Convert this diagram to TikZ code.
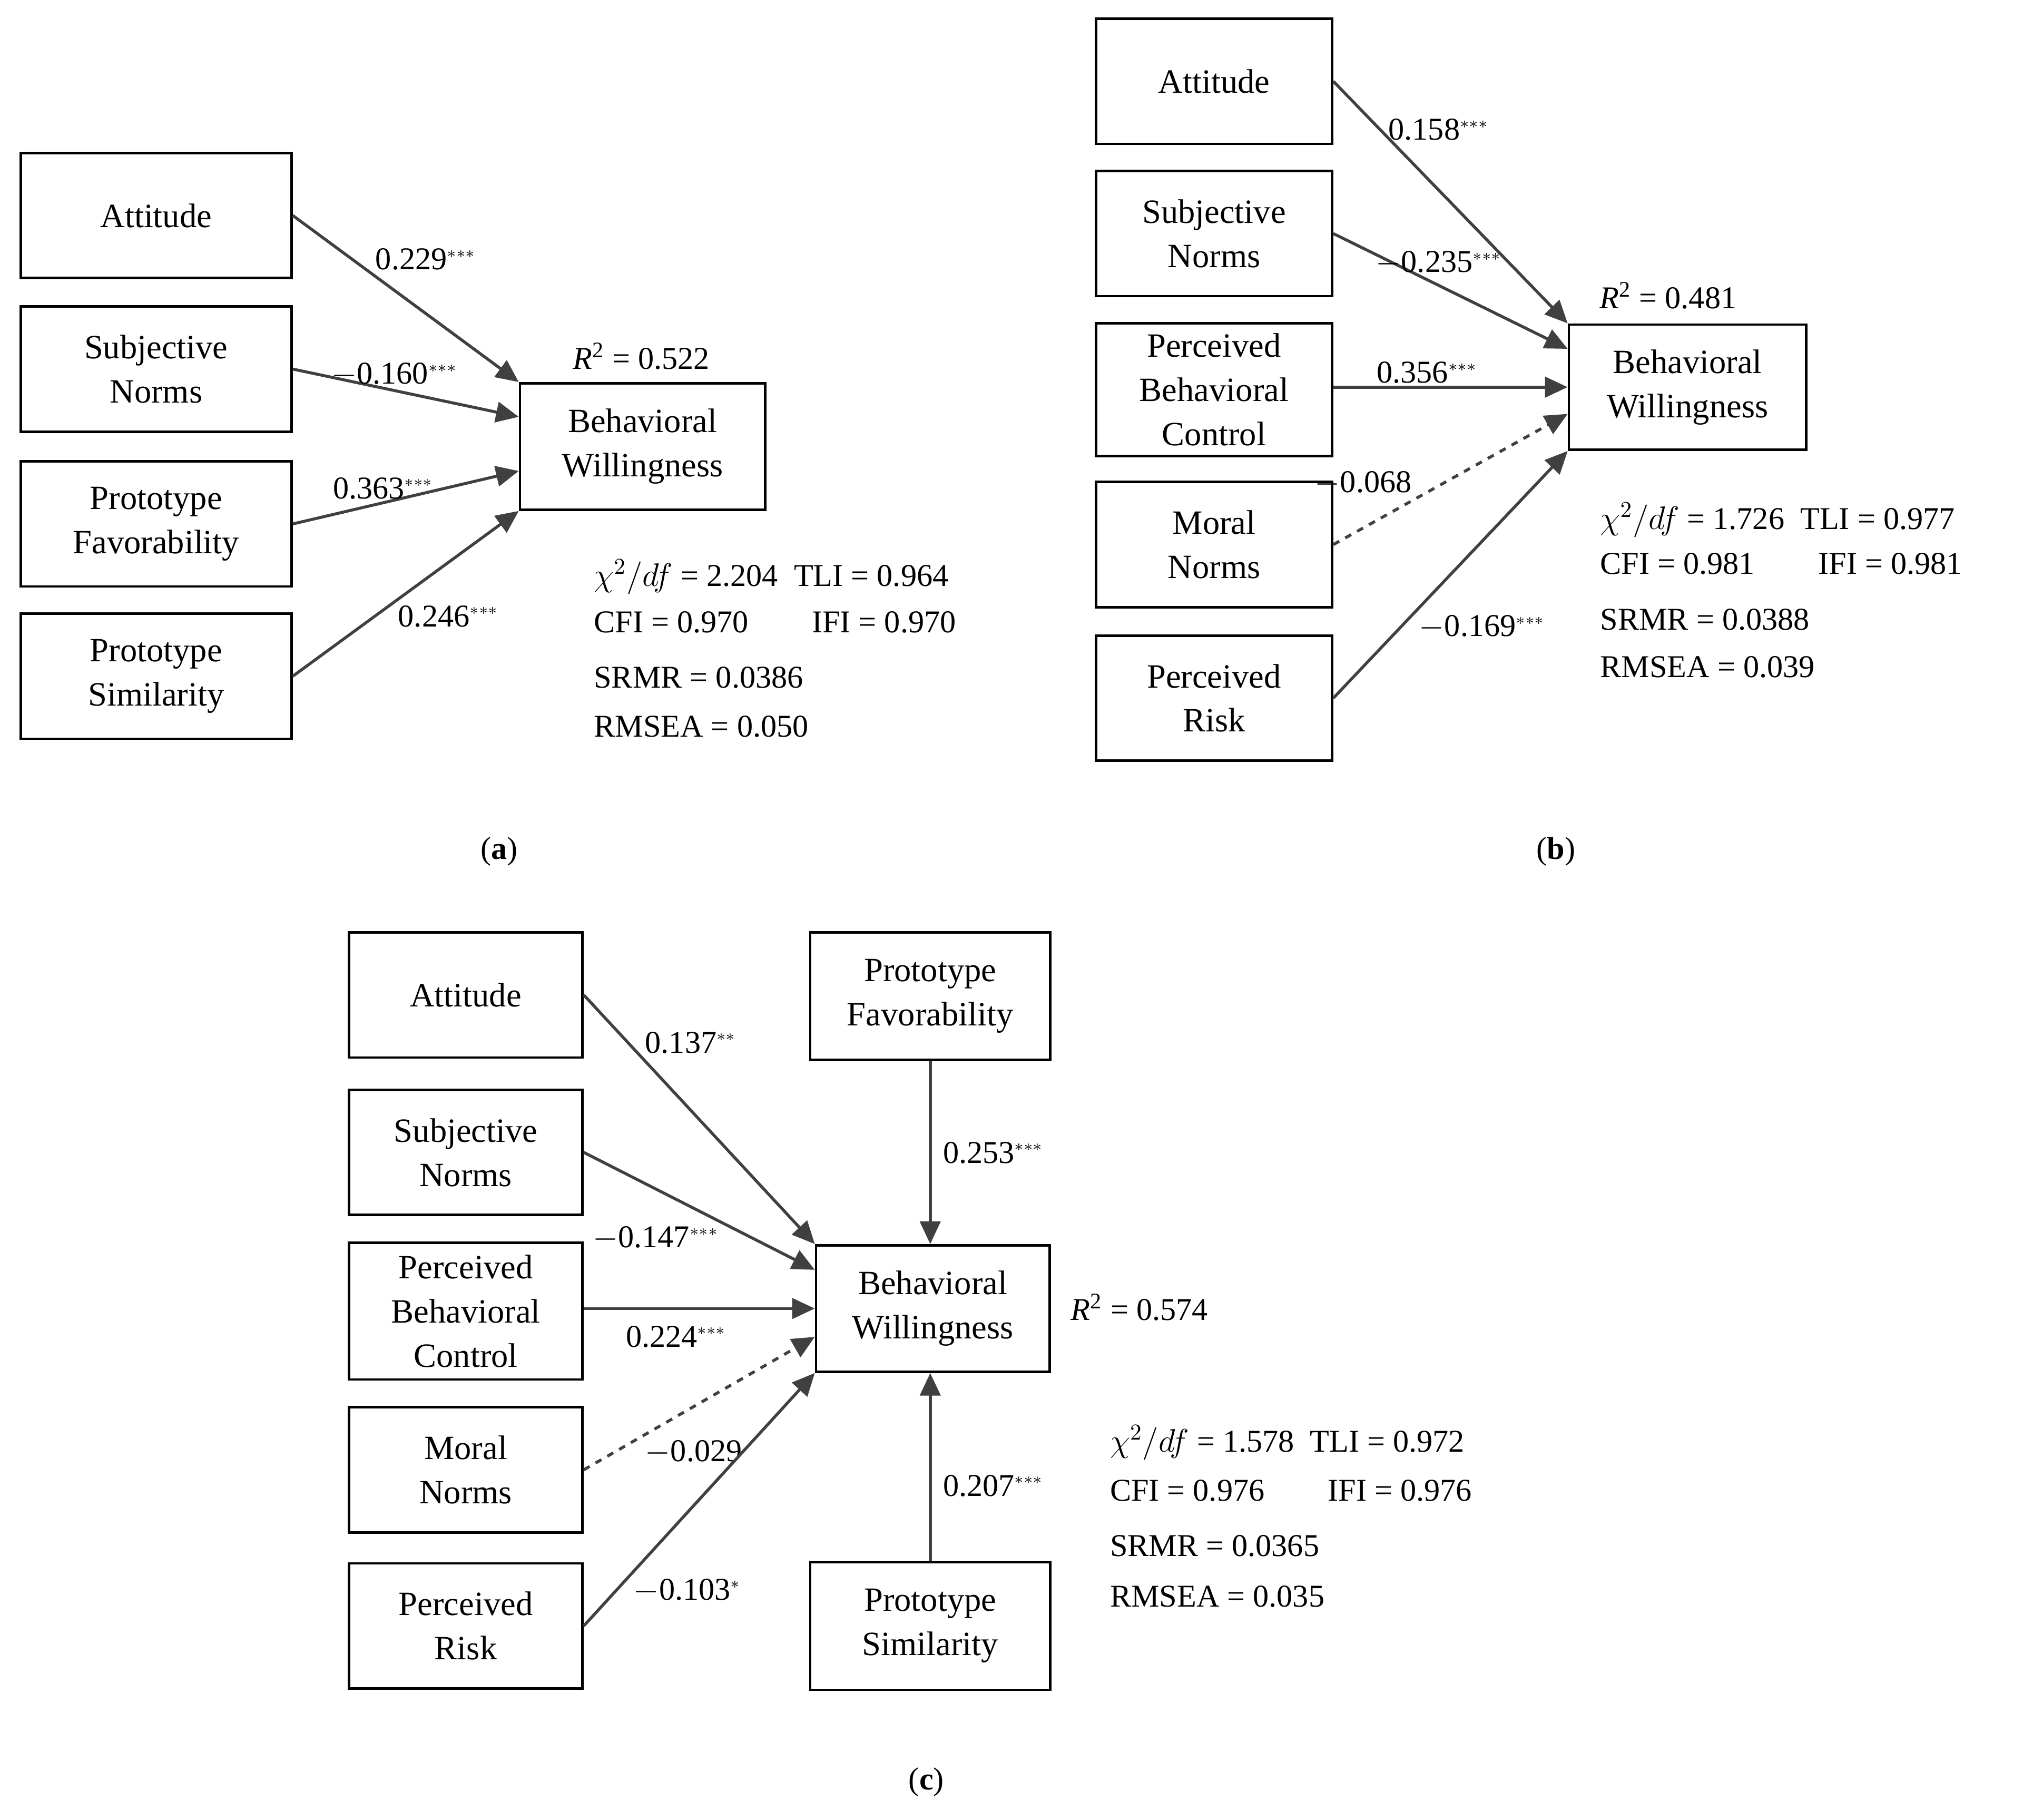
\documentclass[tikz,border=0pt]{standalone}
\usepackage{fontspec}
\setmainfont{Liberation Serif}
\usetikzlibrary{arrows.meta,calc}
\begin{document}
\begin{tikzpicture}[x=0.02cm,y=-0.02cm]
    \tikzset{caja/.style = {draw,line width=1.1pt,align=center,font=\fontsize{15}{19.5}\selectfont,inner sep=0pt}}
    \tikzset{flecha/.style = {-{Triangle[length=10pt,width=9pt]},line width=1.3pt,draw=black!75}}
    \tikzset{peso/.style = {font=\fontsize{14}{17}\selectfont,inner sep=1pt}}
    \tikzset{ajuste/.style = {anchor=west,font=\fontsize{14}{17}\selectfont,inner sep=0pt}}
    \newcommand{\st}[1]{$^{\scriptscriptstyle #1}$}
    \useasboundingbox (0,0) rectangle (1568,1410);

    % (a)
    \tikzset{cajaA/.style = {caja,minimum width=4.2cm,minimum height=1.94cm}}
    \node[cajaA] (attA) at (121,167) {Attitude};
    \node[cajaA] (snA) at (121,286) {Subjective\\Norms};
    \node[cajaA] (pfA) at (121,406) {Prototype\\Favorability};
    \node[cajaA] (psA) at (121,524) {Prototype\\Similarity};
    \node[caja,minimum width=3.8cm,minimum height=1.96cm] (bwA) at (498,346) {Behavioral\\Willingness};
    \node[peso] (r2A) at (497,276) {\textit{R}\textsuperscript{2} = 0.522};

    \draw[flecha] (attA.east) -- (bwA.north west) node[peso,pos=0.35,above right] {0.229\st{***}};
    \draw[flecha] (snA.east) -- ($(bwA.north west)!0.27!(bwA.south west)$) node[peso,pos=0.45,above] {$-$0.160\st{***}};
    \draw[flecha] (pfA.east) -- ($(bwA.north west)!0.69!(bwA.south west)$) node[peso,pos=0.4,above] {0.363\st{***}};
    \draw[flecha] (psA.east) -- (bwA.south west) node[peso,pos=0.45,below right] {0.246\st{***}};

    \node[ajuste] (fitA1) at (460,447) {$\chi^2/df$ = 2.204\enspace TLI = 0.964};
    \node[ajuste] (fitA2) at (460,482) {CFI = 0.970\qquad IFI = 0.970};
    \node[ajuste] (fitA3) at (460,525) {SRMR = 0.0386};
    \node[ajuste] (fitA4) at (460,563) {RMSEA = 0.050};
    \node[peso] (capA) at (387,660) {(\textbf{a})};

    % (b)
    \tikzset{cajaB/.style = {caja,minimum width=3.66cm,minimum height=1.94cm}}
    \node[cajaB] (attB) at (941,63) {Attitude};
    \node[cajaB] (snB) at (941,181) {Subjective\\Norms};
    \node[cajaB,minimum height=2.06cm] (pbcB) at (941,302) {Perceived\\Behavioral\\Control};
    \node[cajaB] (mnB) at (941,422) {Moral\\Norms};
    \node[cajaB] (prB) at (941,541) {Perceived\\Risk};
    \node[caja,minimum width=3.68cm,minimum height=1.94cm] (bwB) at (1308,300) {Behavioral\\Willingness};
    \node[peso] (r2B) at (1293,229) {\textit{R}\textsuperscript{2} = 0.481};

    \draw[flecha] (attB.east) -- (bwB.north west) node[peso,pos=0.2,right=2pt] {0.158\st{***}};
    \draw[flecha] (snB.east) -- ($(bwB.north west)!0.2!(bwB.south west)$) node[peso,pos=0.45,above=3pt] {$-$0.235\st{***}};
    \draw[flecha] (pbcB.east|-bwB.west) -- (bwB.west) node[peso,pos=0.4,above] {0.356\st{***}};
    \draw[flecha,dashed] (mnB.east) -- ($(bwB.north west)!0.71!(bwB.south west)$) node[peso,pos=0.35,above left] {$-$0.068};
    \draw[flecha] (prB.east) -- (bwB.south west) node[peso,pos=0.35,below right] {$-$0.169\st{***}};

    \node[ajuste] (fitB1) at (1240,403) {$\chi^2/df$ = 1.726\enspace TLI = 0.977};
    \node[ajuste] (fitB2) at (1240,437) {CFI = 0.981\qquad IFI = 0.981};
    \node[ajuste] (fitB3) at (1240,480) {SRMR = 0.0388};
    \node[ajuste] (fitB4) at (1240,517) {RMSEA = 0.039};
    \node[peso] (capB) at (1206,660) {(\textbf{b})};

    % (c)
    \tikzset{cajaC/.style = {caja,minimum width=3.62cm,minimum height=1.94cm}}
    \node[cajaC] (attC) at (361,771) {Attitude};
    \node[cajaC] (snC) at (361,893) {Subjective\\Norms};
    \node[cajaC,minimum height=2.12cm] (pbcC) at (361,1016) {Perceived\\Behavioral\\Control};
    \node[cajaC] (mnC) at (361,1139) {Moral\\Norms};
    \node[cajaC] (prC) at (361,1260) {Perceived\\Risk};
    \node[caja,minimum width=3.72cm,minimum height=1.98cm] (pfC) at (721,772) {Prototype\\Favorability};
    \node[caja,minimum width=3.72cm,minimum height=1.98cm] (psC) at (721,1260) {Prototype\\Similarity};
    \node[caja,minimum width=3.62cm,minimum height=1.96cm] (bwC) at (723,1014) {Behavioral\\Willingness};
    \node[peso,anchor=west] (r2C) at (828,1013) {\textit{R}\textsuperscript{2} = 0.574};

    \draw[flecha] (attC.east) -- (bwC.north west) node[peso,pos=0.25,above right] {0.137\st{**}};
    \draw[flecha] (snC.east) -- ($(bwC.north west)!0.2!(bwC.south west)$) node[peso,pos=0.6,below left] {$-$0.147\st{***}};
    \draw[flecha] (pbcC.east|-bwC.west) -- (bwC.west) node[peso,pos=0.4,below=6pt] {0.224\st{***}};
    \draw[flecha,dashed] (mnC.east) -- ($(bwC.north west)!0.72!(bwC.south west)$) node[peso,pos=0.25,below right] {$-$0.029};
    \draw[flecha] (prC.east) -- (bwC.south west) node[peso,pos=0.2,below right] {$-$0.103\st{*}};
    \draw[flecha] (pfC.south) -- (pfC.south|-bwC.north) node[peso,midway,right=4pt] {0.253\st{***}};
    \draw[flecha] (psC.north) -- (psC.north|-bwC.south) node[peso,pos=0.4,right=4pt] {0.207\st{***}};

    \node[ajuste] (fitC1) at (860,1118) {$\chi^2/df$ = 1.578\enspace TLI = 0.972};
    \node[ajuste] (fitC2) at (860,1155) {CFI = 0.976\qquad IFI = 0.976};
    \node[ajuste] (fitC3) at (860,1198) {SRMR = 0.0365};
    \node[ajuste] (fitC4) at (860,1237) {RMSEA = 0.035};
    \node[peso] (capC) at (718,1381) {(\textbf{c})};
\end{tikzpicture}
\end{document}
